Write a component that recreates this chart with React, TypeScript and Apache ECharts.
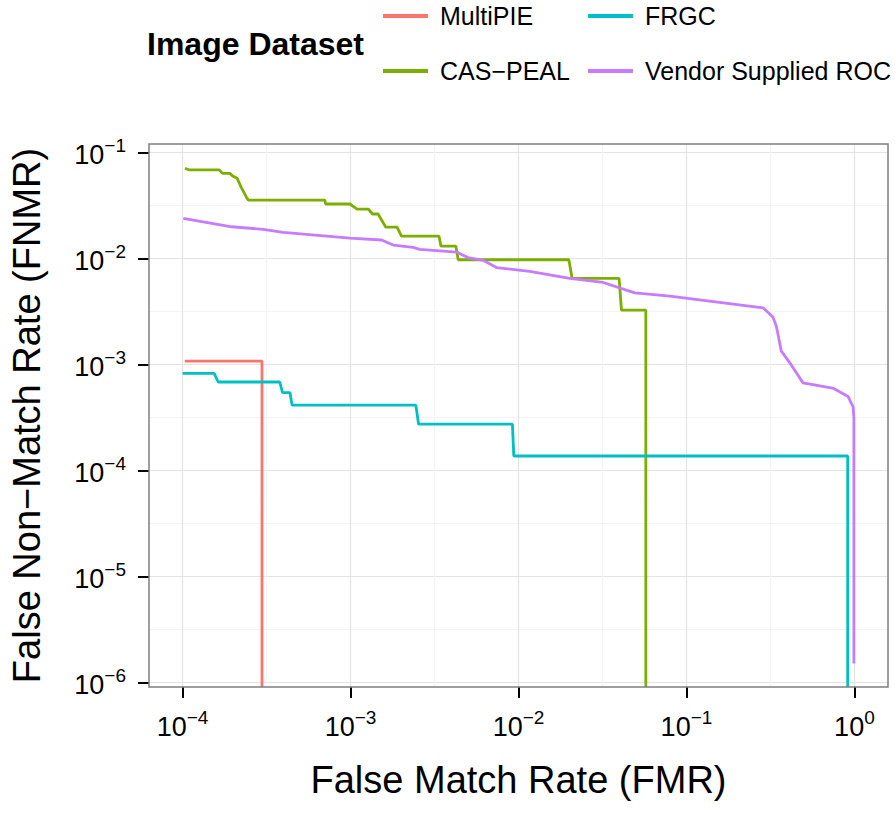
import React, { useEffect, useRef } from 'react';
import * as echarts from 'echarts';

// Decade positions (log10) used for ticks, labels and major grid lines
const X_DECADES = [-4, -3, -2, -1, 0];
const Y_DECADES = [-6, -5, -4, -3, -2, -1];
// Plotted ranges in log10 units
const X_RANGE = [-4.2, 0.2];
const Y_RANGE = [-6.042, -0.918];

const SERIES_NAMES = ['MultiPIE', 'CAS−PEAL', 'FRGC', 'Vendor Supplied ROC'];
const SERIES_COLORS = ['#F8766D', '#7CAE00', '#00BFC4', '#C77CFF'];

// MultiPIE
const multiPieFmr = [1.03e-4, 2.97e-4, 2.97e-4];
const multiPieFnmr = [1.08e-3, 1.08e-3, 0];

// CAS-PEAL
const casPealFmr = [
  1.033e-4, 1.096e-4, 1.652e-4, 1.73e-4, 1.914e-4, 1.986e-4, 2.113e-4, 2.239e-4, 2.399e-4, 2.46e-4,
  7.03e-4, 7.11e-4, 9.91e-4, 1.094e-3, 1.274e-3, 1.352e-3, 1.459e-3, 1.622e-3, 1.892e-3, 2.009e-3,
  3.365e-3, 3.451e-3, 4.236e-3, 4.375e-3, 0.01995, 0.02084, 0.03972, 0.04102, 0.0573, 0.0573,
];
const casPealFnmr = [
  0.0713, 0.0687, 0.0687, 0.0638, 0.0638, 0.0603, 0.0573, 0.0468, 0.038, 0.0357,
  0.0357, 0.0328, 0.0328, 0.0294, 0.0294, 0.0264, 0.0264, 0.0198, 0.0198, 0.0163,
  0.0163, 0.01315, 0.01315, 0.00977, 0.00977, 0.00652, 0.00652, 0.00327, 0.00327, 0,
];

// FRGC
const frgcFmr = [
  1.0e-4, 1.542e-4, 1.629e-4, 3.793e-4, 3.936e-4, 4.355e-4, 4.487e-4, 2.449e-3, 2.541e-3, 9.2e-3,
  9.376e-3, 0.912, 0.912,
];
const frgcFnmr = [
  8.28e-4, 8.28e-4, 6.86e-4, 6.86e-4, 5.45e-4, 5.45e-4, 4.14e-4, 4.14e-4, 2.74e-4, 2.74e-4,
  1.374e-4, 1.374e-4, 0,
];

// Vendor supplied ROC
const vendorFmr = [
  1.009e-4, 1.959e-4, 3.02e-4, 3.972e-4, 9.91e-4, 1.531e-3, 1.795e-3, 2.36e-3, 2.582e-3, 4.276e-3,
  5.012e-3, 6.152e-3, 7.396e-3, 0.01167, 0.02018, 0.03192, 0.0492, 0.0796, 0.2858, 0.3273,
  0.3436, 0.3664, 0.4217, 0.4943, 0.7534, 0.9162, 0.9817, 0.9931, 0.9931,
];
const vendorFnmr = [
  0.02399, 0.02, 0.01892, 0.0177, 0.01563, 0.015, 0.01343, 0.01279, 0.01225, 0.01153,
  0.01023, 0.00964, 0.00824, 0.00759, 0.00652, 0.00596, 0.00476, 0.00444, 0.00344, 0.00282,
  0.00228, 0.00135, 0.000989, 0.000673, 0.000596, 0.000501, 0.0004, 0.000316, 1.51e-6,
];

const SERIES_DATA: [number[], number[]][] = [
  [multiPieFmr, multiPieFnmr],
  [casPealFmr, casPealFnmr],
  [frgcFmr, frgcFnmr],
  [vendorFmr, vendorFnmr],
];

const FONT = "'Liberation Sans', Arial, Helvetica, sans-serif";

// A rate of zero sits at the bottom edge of the log panel
const toLogPoints = (fmr: number[], fnmr: number[]) =>
  fmr.map((x, i) => [Math.log10(x), fnmr[i] > 0 ? Math.log10(fnmr[i]) : Y_RANGE[0]]);

const powerLabel = (v: number) => `{b|10}{s|${v < 0 ? '−' : ''}${Math.abs(Math.round(v))}}`;

const rich = {
  b: { fontSize: 27, lineHeight: 28, padding: [5, 0, 0, 0], color: '#000', fontFamily: FONT },
  s: { fontSize: 19, lineHeight: 19, padding: [0, 0, 14, 0], color: '#000', fontFamily: FONT },
};

const legendCommon = {
  orient: 'vertical',
  top: 1,
  padding: 0,
  icon: 'rect',
  itemWidth: 45,
  itemHeight: 4,
  itemGap: 25,
  textStyle: { fontSize: 25, color: '#000', lineHeight: 30, padding: [0, 0, 0, 7], fontFamily: FONT },
};

export default function App() {
  const ref = useRef<HTMLDivElement>(null);

  useEffect(() => {
    document.body.style.margin = '0';
    if (!ref.current) return;
    const chart = echarts.init(ref.current, undefined, { renderer: 'svg' });

    const axisCommon = (decades: number[]) => ({
      type: 'value',
      minInterval: 1,
      maxInterval: 1,
      axisLine: { show: false, onZero: false },
      axisTick: {
        show: true,
        length: 11,
        customValues: decades,
        lineStyle: { color: '#000', width: 2 },
      },
      axisLabel: { customValues: decades, formatter: powerLabel, rich, color: '#000' },
      splitLine: { show: true, lineStyle: { color: '#e3e3e3', width: 1.2 } },
      minorTick: { show: false, splitNumber: 2 },
      minorSplitLine: { show: true, lineStyle: { color: '#f4f4f4', width: 1.2 } },
      nameLocation: 'middle',
      nameMoveOverlap: false,
      nameTextStyle: { fontSize: 38, color: '#000', fontFamily: FONT },
    });

    const xBase = axisCommon(X_DECADES);
    const yBase = axisCommon(Y_DECADES);

    chart.setOption({
      animation: false,
      textStyle: { fontFamily: FONT },
      title: {
        text: 'Image Dataset',
        left: 147,
        top: 26,
        padding: 0,
        textStyle: { fontSize: 32, fontWeight: 'bold', color: '#000', lineHeight: 36, fontFamily: FONT },
      },
      legend: [
        { ...legendCommon, left: 383, data: [SERIES_NAMES[0], SERIES_NAMES[1]] },
        { ...legendCommon, left: 588, data: [SERIES_NAMES[2], SERIES_NAMES[3]] },
      ],
      grid: {
        left: 149,
        top: 144,
        width: 739,
        height: 543,
        show: true,
        z: 3,
        backgroundColor: 'transparent',
        borderColor: '#7f7f7f',
        borderWidth: 1.5,
      },
      xAxis: {
        ...xBase,
        position: 'bottom',
        min: X_RANGE[0],
        max: X_RANGE[1],
        axisLabel: { ...xBase.axisLabel, margin: 23 },
        name: 'False Match Rate (FMR)',
        nameGap: 74,
      },
      yAxis: {
        ...yBase,
        position: 'left',
        min: Y_RANGE[0],
        max: Y_RANGE[1],
        axisLabel: { ...yBase.axisLabel, margin: 23 },
        name: 'False Non−Match Rate (FNMR)',
        nameRotate: 90,
        nameGap: 103,
      },
      series: SERIES_NAMES.map((name, i) => ({
        type: 'line',
        name,
        data: toLogPoints(SERIES_DATA[i][0], SERIES_DATA[i][1]),
        symbol: 'none',
        showSymbol: false,
        clip: true,
        z: 2,
        color: SERIES_COLORS[i],
        lineStyle: { width: 2.8, color: SERIES_COLORS[i] },
        itemStyle: { color: SERIES_COLORS[i] },
      })),
    });

    return () => chart.dispose();
  }, []);

  return <div ref={ref} style={{ width: 895, height: 814 }} />;
}
